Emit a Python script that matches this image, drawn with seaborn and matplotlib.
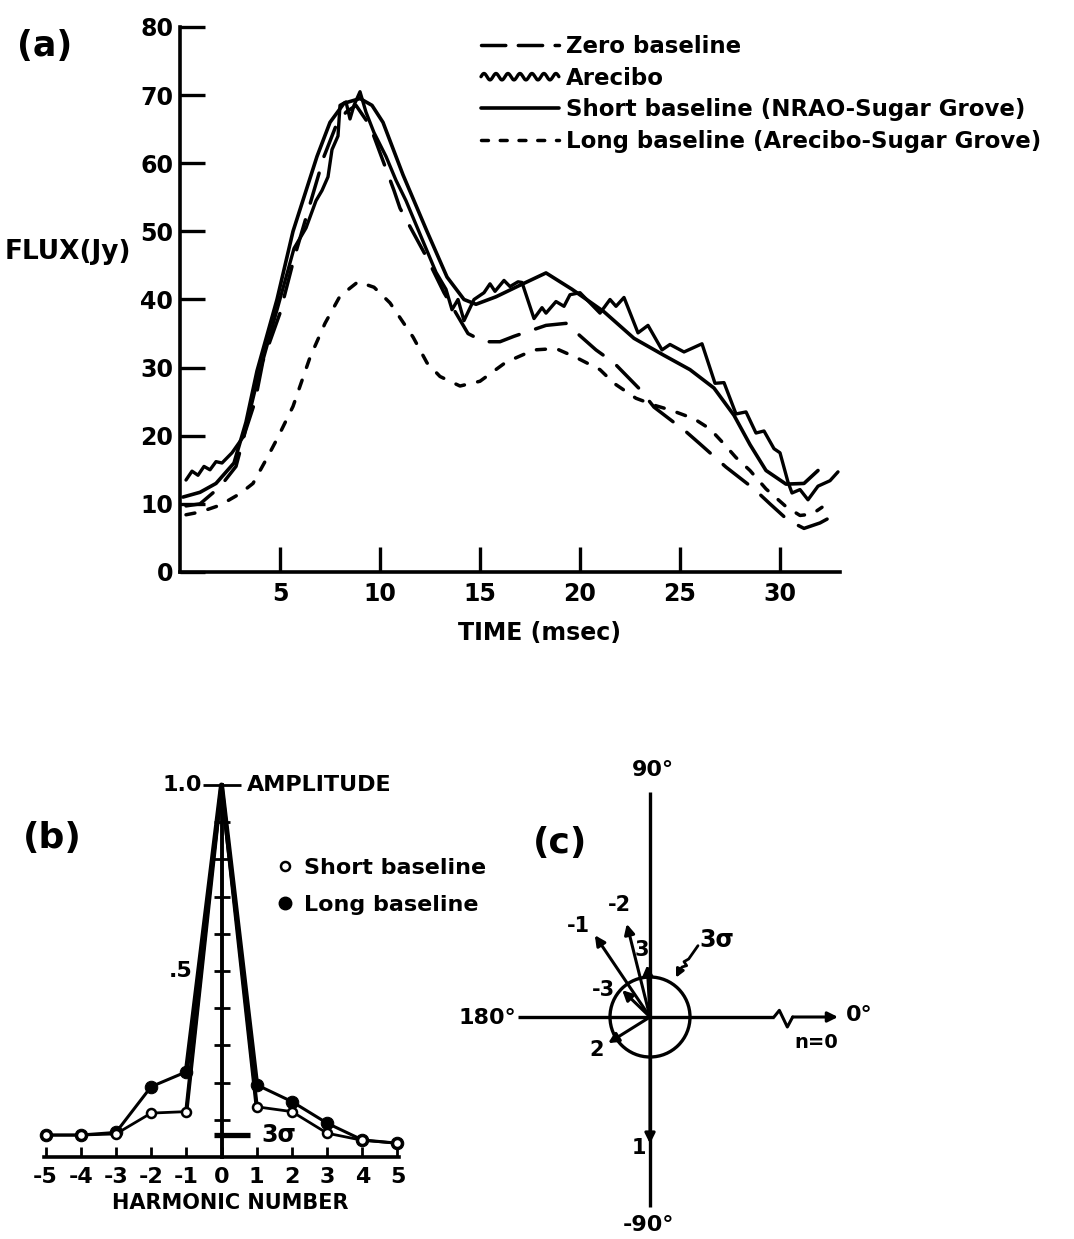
import numpy as np
import matplotlib
matplotlib.use("Agg")
import matplotlib.pyplot as plt
import seaborn as sns
from matplotlib.lines import Line2D
from matplotlib.legend_handler import HandlerBase
from matplotlib.patches import Circle

# ---------------- Panel (a): flux profiles ----------------
zero_t = [0.3, 1.0, 2.0, 2.8, 3.25, 3.75, 4.15, 5.0, 5.7, 6.5, 7.2, 7.8, 8.3, 8.8, 9.5, 10.7,
          11.0, 12.35, 13.2, 14.0, 14.4, 15.2, 16.0, 16.7, 18.3, 19.3, 20.8, 21.7, 23.0, 23.7,
          25.3, 26.0, 27.3, 28.7, 29.5, 30.4, 31.2, 32.0, 32.5]
zero_flux = [9.7, 10.0, 12.5, 15.5, 20.5, 25.0, 31.0, 38.0, 46.0, 54.0, 61.0, 65.5, 67.5, 68.5,
             65.5, 56.0, 53.4, 46.1, 41.0, 37.0, 35.0, 33.8, 33.8, 34.6, 36.2, 36.5, 32.6, 30.7,
             26.8, 24.2, 20.6, 18.8, 15.4, 12.2, 10.0, 7.6, 6.4, 7.2, 8.0]

arecibo_t = [0.3, 0.6, 0.9, 1.2, 1.5, 1.8, 2.1, 2.6, 3.2, 3.9, 4.9, 5.7, 6.3, 6.8, 7.1, 7.4,
             7.6, 7.9, 8.0, 8.3, 8.5, 8.7, 9.0, 9.3, 9.7, 10.3, 10.8, 11.3, 11.8, 12.3, 12.8,
             13.3, 13.6, 13.9, 14.2, 14.7, 15.2, 15.5, 15.75, 16.2, 16.5, 16.9, 17.1, 17.7,
             18.1, 18.3, 18.8, 19.2, 19.5, 20.0, 20.5, 21.0, 21.5, 21.8, 22.2, 22.9, 23.4,
             24.1, 24.5, 25.2, 26.1, 26.75, 27.2, 27.8, 28.3, 28.8, 29.2, 29.7, 30.0, 30.4,
             30.6, 31.0, 31.4, 31.9, 32.5, 32.9]
arecibo_flux = [13.5, 14.8, 14.2, 15.5, 15.0, 16.2, 16.0, 17.5, 20.0, 28.5, 39.0, 47.5, 50.5,
                54.5, 56.0, 58.0, 62.0, 64.0, 68.5, 69.0, 66.5, 68.5, 70.5, 67.5, 64.5, 61.0,
                57.5, 54.5, 51.0, 47.5, 44.0, 41.5, 38.5, 40.0, 36.9, 40.0, 41.0, 42.3, 41.2,
                42.8, 41.9, 42.6, 42.5, 37.2, 38.8, 38.0, 39.7, 39.0, 40.7, 41.0, 39.5, 38.0,
                40.0, 39.0, 40.3, 35.1, 36.2, 32.6, 33.4, 32.3, 33.5, 27.7, 27.8, 23.2, 23.5,
                20.4, 20.7, 18.1, 17.5, 13.2, 11.6, 12.1, 10.6, 12.6, 13.4, 14.7]

short_t = [0.15, 1.0, 1.8, 2.7, 3.3, 3.85, 4.85, 5.65, 6.85, 7.5, 8.2, 9.0, 9.6, 10.15, 11.15,
           12.35, 13.35, 14.2, 14.8, 15.8, 17.0, 18.3, 19.6, 21.2, 22.7, 24.2, 25.5, 26.7,
           27.7, 28.5, 29.3, 30.3, 31.2, 31.9]
short_flux = [11.0, 11.7, 13.0, 16.0, 22.0, 29.5, 40.0, 50.0, 61.0, 66.0, 68.8, 69.5, 68.5,
              66.0, 58.3, 50.0, 43.3, 40.0, 39.3, 40.4, 42.1, 43.9, 41.5, 38.2, 34.3, 31.8,
              29.7, 27.0, 23.0, 18.7, 14.9, 12.9, 13.0, 14.9]

long_t = [0.3, 1.0, 2.0, 3.0, 3.65, 4.4, 4.9, 5.65, 6.5, 7.25, 8.0, 8.9, 9.7, 10.5, 11.65,
          12.35, 13.0, 14.0, 15.0, 16.3, 17.7, 18.8, 19.8, 21.0, 21.7, 22.8, 23.8, 24.5, 25.7,
          26.5, 27.2, 27.8, 28.5, 29.3, 30.3, 31.0, 31.6, 32.1]
long_flux = [8.4, 8.8, 9.8, 11.5, 13.0, 17.0, 19.8, 24.3, 31.5, 36.5, 40.5, 42.6, 41.8, 39.5,
             34.5, 30.7, 28.7, 27.3, 28.0, 30.8, 32.6, 32.8, 31.5, 29.7, 27.7, 25.5, 24.4,
             23.8, 22.5, 21.0, 18.8, 16.8, 14.9, 12.2, 9.6, 8.3, 8.5, 9.5]

flux_ticks = [0, 10, 20, 30, 40, 50, 60, 70, 80]
time_ticks = [5, 10, 15, 20, 25, 30]
legend_a = ["Zero baseline", "Arecibo", "Short baseline (NRAO-Sugar Grove)",
            "Long baseline (Arecibo-Sugar Grove)"]

# ---------------- Panel (b): harmonic amplitudes ----------------
harmonic = [-5, -4, -3, -2, -1, 0, 1, 2, 3, 4, 5]
harmonic_labels = ["-5", "-4", "-3", "-2", "-1", "0", "1", "2", "3", "4", "5"]
amp_short = [0.059, 0.059, 0.062, 0.118, 0.122, 1.0, 0.135, 0.122, 0.064, 0.045, 0.037]
amp_long = [0.059, 0.059, 0.066, 0.189, 0.229, 1.0, 0.194, 0.149, 0.091, 0.046, 0.037]
amp_ticks = [0.1, 0.2, 0.3, 0.4, 0.5, 0.6, 0.7, 0.8, 0.9, 1.0]
sigma3_level = 0.06
legend_b = ["Short baseline", "Long baseline"]

# ---------------- Panel (c): phase diagram (amplitudes in units of sigma) ----------------
vec_labels = ["-1", "-2", "3", "-3", "2", "1"]
vec_amp = [7.4, 7.2, 3.9, 2.9, 3.7, 9.5]
vec_phase = [124, 104, 93, 136, 212, -90]
n0_amp = 14.1
circle_sigma = 3.0

# ---------------- style ----------------
sns.set_theme(style="white")
plt.rcParams["font.family"] = ["DejaVu Sans"]
plt.rcParams["font.weight"] = "bold"
plt.rcParams["axes.labelweight"] = "bold"
for k in ["text.color", "axes.labelcolor", "axes.edgecolor", "xtick.color", "ytick.color"]:
    plt.rcParams[k] = "black"

W, H = 1074, 1239
fig = plt.figure(figsize=(W / 100, H / 100), dpi=100)
fig.patch.set_facecolor("white")


def fx(px):
    return px / W


def fy(py):
    return 1 - py / H


INK = "black"

# ================= Panel (a) =================
ax_a = fig.add_axes([fx(180), fy(572), 660 / W, 545 / H])
sns.lineplot(x=long_t, y=long_flux, ax=ax_a, color=INK, lw=2.5, sort=False, estimator=None,
             linestyle=(0, (2.6, 3.9)), dash_capstyle="round")
sns.lineplot(x=zero_t, y=zero_flux, ax=ax_a, color=INK, lw=2.5, sort=False, estimator=None,
             linestyle=(0, (9, 5)), dash_capstyle="round")
sns.lineplot(x=short_t, y=short_flux, ax=ax_a, color=INK, lw=2.6, sort=False, estimator=None,
             solid_capstyle="round")
sns.lineplot(x=arecibo_t, y=arecibo_flux, ax=ax_a, color=INK, lw=2.4, sort=False,
             estimator=None, solid_joinstyle="round", solid_capstyle="round")

ax_a.set_xlim(0, 33)
ax_a.set_ylim(0, 80)
ax_a.set_xticks(time_ticks)
ax_a.set_xticklabels([str(t) for t in time_ticks])
ax_a.set_yticks(flux_ticks)
ax_a.set_yticklabels([str(v) for v in flux_ticks])
ax_a.tick_params(axis="both", direction="in", length=18, width=2.4, labelsize=17,
                 bottom=True, left=True, top=False, right=False)
ax_a.tick_params(axis="x", pad=7)
ax_a.tick_params(axis="y", pad=5)
for s in ["top", "right"]:
    ax_a.spines[s].set_visible(False)
for s in ["left", "bottom"]:
    ax_a.spines[s].set_linewidth(2.6)
ax_a.set_facecolor("white")
ax_a.set_xlabel("TIME (msec)", fontsize=17, va="center")
ax_a.xaxis.set_label_coords((540 - 180) / 660, (572 - 633) / 545)
ax_a.set_ylabel("FLUX(Jy)", fontsize=19, rotation=0, ha="left", va="center")
ax_a.yaxis.set_label_coords((5 - 180) / 660, (572 - 252) / 545)


class WavyHandler(HandlerBase):
    def create_artists(self, legend, orig_handle, xdescent, ydescent, width, height,
                       fontsize, trans):
        xs = np.linspace(0, width, 160)
        ys = height / 2 + height * 0.2 * np.sin(xs / width * 2 * np.pi * 6.5)
        line = Line2D(xs - xdescent, ys - ydescent, color=INK, lw=2.4,
                      solid_capstyle="round", transform=trans)
        return [line]


h_zero = Line2D([], [], color=INK, lw=2.5, linestyle=(0, (7.0, 3.6)), dash_capstyle="round")
h_are = Line2D([], [], color=INK, lw=2.4)
h_short = Line2D([], [], color=INK, lw=2.6)
h_long = Line2D([], [], color=INK, lw=2.5, linestyle=(0, (2.0, 3.4)), dash_capstyle="round")
ax_a.legend([h_zero, h_are, h_short, h_long], legend_a, handler_map={h_are: WavyHandler()},
            loc="upper left", bbox_to_anchor=(fx(481), fy(35)),
            bbox_transform=fig.transFigure, frameon=False, fontsize=16.5, handlelength=3.4,
            handletextpad=0.3, labelspacing=0.38, borderpad=0, borderaxespad=0)
fig.text(fx(45), fy(46), "(a)", fontsize=25, ha="center", va="center")

# ================= Panel (b) =================
ax_b = fig.add_axes([fx(35), fy(1157), 373 / W, 1.03 * 372 / H])
mk_every = [0, 1, 2, 3, 4, 6, 7, 8, 9, 10]
sns.lineplot(x=harmonic, y=amp_short, ax=ax_b, color=INK, lw=2.0, sort=False, estimator=None,
             marker="o", ms=6.5, mfc="white", mec=INK, mew=1.8, markevery=mk_every, zorder=4)
sns.lineplot(x=harmonic, y=amp_long, ax=ax_b, color=INK, lw=2.2, sort=False, estimator=None,
             marker="o", ms=9, mfc=INK, mec=INK, markevery=mk_every, zorder=3)
sns.lineplot(x=harmonic[4:7], y=amp_long[4:7], ax=ax_b, color=INK, lw=3.6, sort=False,
             estimator=None, zorder=3)
sns.lineplot(x=harmonic[4:7], y=amp_short[4:7], ax=ax_b, color=INK, lw=3.0, sort=False,
             estimator=None, zorder=3)
ax_b.hlines(sigma3_level, -0.2, 0.8, color=INK, lw=3.8, zorder=5)
ax_b.text(1.12, sigma3_level, "3σ", fontsize=17, ha="left", va="center")

ax_b.set_xlim(-5.3, 5.3)
ax_b.set_ylim(0, 1.03)
ax_b.set_facecolor("white")
for s in ["top", "right"]:
    ax_b.spines[s].set_visible(False)
ax_b.spines["left"].set_position(("data", 0))
ax_b.spines["left"].set_bounds(0, 1.0)
ax_b.spines["left"].set_linewidth(2.8)
ax_b.spines["bottom"].set_bounds(-5.05, 5.05)
ax_b.spines["bottom"].set_linewidth(2.6)
ax_b.set_xticks(harmonic)
ax_b.set_xticklabels(harmonic_labels)
ax_b.set_yticks(amp_ticks)
ax_b.set_yticklabels([""] * len(amp_ticks))
ax_b.tick_params(axis="x", direction="in", length=7, width=2, labelsize=16, pad=7,
                 bottom=True, top=False)
ax_b.tick_params(axis="y", direction="inout", length=12, width=2, left=True, right=False)
for tk in ax_b.yaxis.get_major_ticks():
    if abs(tk.get_loc() - 1.0) < 1e-9:
        tk.tick1line.set_markersize(27)
ax_b.text(-0.55, 1.0, "1.0", fontsize=16, ha="right", va="center")
ax_b.text(0.72, 1.0, "AMPLITUDE", fontsize=16, ha="left", va="center")
ax_b.text(-0.82, 0.5, ".5", fontsize=16, ha="right", va="center")
ax_b.set_xlabel("HARMONIC NUMBER", fontsize=15, va="center")
ax_b.xaxis.set_label_coords((230 - 35) / 373, (1157 - 1203) / (1.03 * 372))

hb_s = Line2D([], [], ls="none", marker="o", ms=6.5, mfc="white", mec=INK, mew=1.8)
hb_l = Line2D([], [], ls="none", marker="o", ms=9, mfc=INK, mec=INK)
ax_b.legend([hb_s, hb_l], legend_b, loc="upper left", bbox_to_anchor=(fx(278), fy(858)),
            bbox_transform=fig.transFigure, frameon=False, fontsize=16, handlelength=0.6,
            handletextpad=0.55, labelspacing=0.75, borderpad=0, borderaxespad=0)
fig.text(fx(52), fy(838), "(b)", fontsize=26, ha="center", va="center")

# ================= Panel (c) =================
scale = 40 / 3.0  # pixels per sigma
ax_c = fig.add_axes([fx(470), 0, 430 / W, 479 / H])
ax_c.set_xlim(-180 / scale, 250 / scale)
ax_c.set_ylim(-222 / scale, 257 / scale)
ax_c.axis("off")

axis_left, axis_top, axis_bottom = -9.9, 16.9, -14.25
break_lo, break_hi = 9.3, 10.7
arrow_kw = dict(arrowstyle="-|>", color=INK, lw=2.2, mutation_scale=15, shrinkA=0, shrinkB=0)

ax_c.hlines(0, axis_left, break_lo, color=INK, lw=2.4)
ax_c.plot([break_lo, break_lo + 0.4, break_lo + 1.0, break_hi], [0, 0.5, -0.75, 0],
          color=INK, lw=2.2)
ax_c.annotate("", xy=(n0_amp, 0), xytext=(break_hi, 0), arrowprops=arrow_kw)
ax_c.vlines(0, axis_bottom, axis_top, color=INK, lw=2.4)
ax_c.add_patch(Circle((0, 0), circle_sigma, fill=False, lw=2.4, ec=INK))

for lab, a, ph in zip(vec_labels, vec_amp, vec_phase):
    tip = (a * np.cos(np.radians(ph)), a * np.sin(np.radians(ph)))
    ax_c.annotate("", xy=tip, xytext=(0, 0), arrowprops=arrow_kw)

label_pos = {"-1": (-5.4, 6.8), "-2": (-2.3, 8.4), "3": (-0.65, 5.0), "-3": (-3.5, 2.0),
             "2": (-4.0, -2.5), "1": (-0.8, -9.8)}
for lab in vec_labels:
    ax_c.text(*label_pos[lab], lab, fontsize=15, ha="center", va="center")

ax_c.text(12.5, -1.9, "n=0", fontsize=14, ha="center", va="center")
ax_c.text(14.7, 0.15, "0°", fontsize=16, ha="left", va="center")
ax_c.text(-10.0, -0.1, "180°", fontsize=16, ha="right", va="center")
ax_c.text(0.2, 18.5, "90°", fontsize=16, ha="center", va="center")
ax_c.text(-0.15, -15.6, "-90°", fontsize=16, ha="center", va="center")
ax_c.text(5.0, 5.8, "3σ", fontsize=17, ha="center", va="center")
ax_c.plot([3.6, 2.9, 2.55, 2.75, 2.4, 2.2], [5.35, 4.35, 4.15, 3.85, 3.75, 3.45],
          color=INK, lw=2.0)
ax_c.annotate("", xy=(1.95, 2.95), xytext=(2.2, 3.45),
              arrowprops=dict(arrowstyle="-|>", color=INK, lw=2.0, mutation_scale=12,
                              shrinkA=0, shrinkB=0))
fig.text(fx(560), fy(843), "(c)", fontsize=26, ha="center", va="center")

fig.savefig("out.png", dpi=100, facecolor="white")
